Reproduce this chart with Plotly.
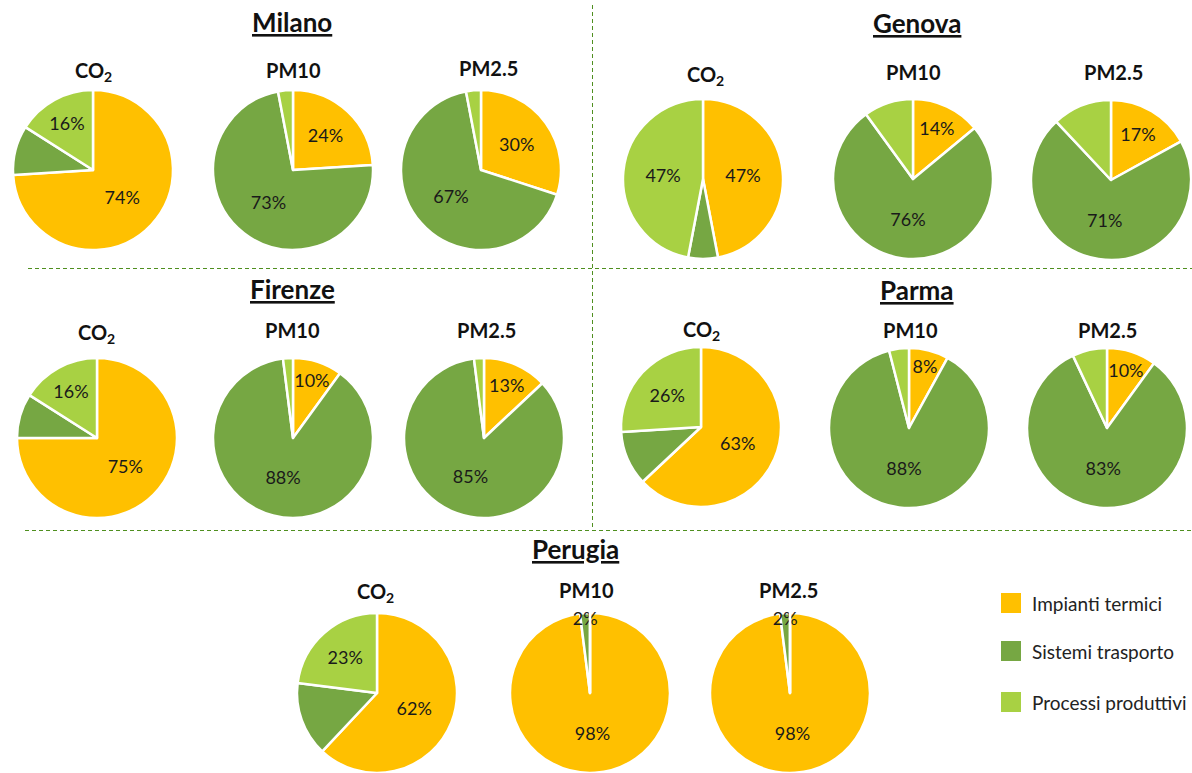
import plotly.graph_objects as go

W, H = 1192, 773

# ---------------- data ----------------
sources = ["Impianti termici", "Sistemi trasporto", "Processi produttivi"]
colors = ["#FFC000", "#76A743", "#A8D143"]
pollutants = ["CO<sub>2</sub>", "PM10", "PM2.5"]
cities = ["Milano", "Genova", "Firenze", "Parma", "Perugia"]

milano_co2 = [74, 10, 16]
milano_pm10 = [24, 73, 3]
milano_pm25 = [30, 67, 3]
genova_co2 = [47, 6, 47]
genova_pm10 = [14, 76, 10]
genova_pm25 = [17, 71, 12]
firenze_co2 = [75, 9, 16]
firenze_pm10 = [10, 88, 2]
firenze_pm25 = [13, 85, 2]
parma_co2 = [63, 11, 26]
parma_pm10 = [8, 88, 4]
parma_pm25 = [10, 83, 7]
perugia_co2 = [62, 15, 23]
perugia_pm10 = [98, 2, 0]
perugia_pm25 = [98, 2, 0]

city_values = {
    "Milano": [milano_co2, milano_pm10, milano_pm25],
    "Genova": [genova_co2, genova_pm10, genova_pm25],
    "Firenze": [firenze_co2, firenze_pm10, firenze_pm25],
    "Parma": [parma_co2, parma_pm10, parma_pm25],
    "Perugia": [perugia_co2, perugia_pm10, perugia_pm25],
}
# which sources carry a percentage label (CO2: termici + produttivi; PM: termici + trasporto)
labelled = [[True, False, True], [True, True, False], [True, True, False]]

# ---------------- layout (pixels) ----------------
R = 80
pie_centers = {
    "Milano": [(93, 170), (293, 170), (481, 170)],
    "Genova": [(703, 179), (913, 179), (1111, 180)],
    "Firenze": [(97, 438), (293, 438), (484, 438)],
    "Parma": [(701, 427), (909, 428), (1107, 428)],
    "Perugia": [(377, 693), (590, 693), (790, 693)],
}
city_title_pos = {
    "Milano": (292, 22), "Genova": (917, 23), "Firenze": (292, 289),
    "Parma": (917, 290), "Perugia": (575, 549),
}
sub_title_pos = {
    "Milano": [(93, 71), (293, 70), (488, 68)],
    "Genova": [(705, 76), (913, 72), (1113, 72)],
    "Firenze": [(97, 333), (292, 330), (486, 330)],
    "Parma": [(701, 330), (910, 330), (1107, 330)],
    "Perugia": [(375, 592), (586, 590), (788, 590)],
}

FONT = "Lato, Carlito, Calibri, 'Noto Sans', sans-serif"

def px(x):
    return x / W

def py(y):
    return 1 - y / H

fig = go.Figure()
annotations = []

for city in cities:
    for k, vals in enumerate(city_values[city]):
        cx, cy = pie_centers[city][k]
        texts = [f"{v}%" if labelled[k][i] else "" for i, v in enumerate(vals)]
        fig.add_trace(go.Pie(
            labels=sources, values=vals, text=texts,
            textinfo="text", textposition="inside",
            insidetextorientation="horizontal",
            marker=dict(colors=colors, line=dict(color="white", width=2.5)),
            sort=False, direction="clockwise", rotation=0,
            domain=dict(x=[px(cx - R), px(cx + R)], y=[max(0, py(cy + R)), py(cy - R)]),
            textfont=dict(family=FONT, size=18, color="#1a1a1a"),
            showlegend=False, hoverinfo="label+percent",
        ))
        sx, sy = sub_title_pos[city][k]
        annotations.append(dict(
            x=px(sx), y=py(sy), xref="paper", yref="paper", showarrow=False,
            text=f"<b>{pollutants[k]}</b>", xanchor="center", yanchor="middle",
            font=dict(family=FONT, size=20, color="#111111"),
        ))
    tx, ty = city_title_pos[city]
    annotations.append(dict(
        x=px(tx), y=py(ty), xref="paper", yref="paper", showarrow=False,
        text=f"<b><u>{city}</u></b>", xanchor="center", yanchor="middle",
        font=dict(family=FONT, size=26, color="#111111"),
    ))

# dashed separators
shapes = []
dash_style = dict(color="#4F8F1F", width=1, dash="4px,3px")
for (x0, y0, x1, y1) in [(28, 268.5, 1192, 268.5), (25, 530.5, 1192, 530.5), (592.5, 5, 592.5, 530)]:
    shapes.append(dict(type="line", xref="paper", yref="paper",
                       x0=px(x0), y0=py(y0), x1=px(x1), y1=py(y1), line=dash_style))

# custom legend
legend_y = [603, 651, 702]
for name, col, ly in zip(sources, colors, legend_y):
    shapes.append(dict(type="rect", xref="paper", yref="paper",
                       x0=px(1001), x1=px(1021), y0=py(ly + 10), y1=py(ly - 10),
                       fillcolor=col, line=dict(width=0)))
    annotations.append(dict(
        x=px(1030), y=py(ly), xref="paper", yref="paper", showarrow=False,
        text=name, xanchor="left", yanchor="middle",
        font=dict(family=FONT, size=19, color="#222222"),
    ))

fig.update_layout(
    width=W, height=H, margin=dict(l=0, r=0, t=0, b=0),
    paper_bgcolor="white", plot_bgcolor="white",
    annotations=annotations, shapes=shapes,
    uniformtext=dict(minsize=18, mode="show"),
    font=dict(family=FONT),
)

fig.write_html("out.html", config={"displayModeBar": False},
               post_script="document.body.style.margin='0';document.body.style.overflow='hidden';")
